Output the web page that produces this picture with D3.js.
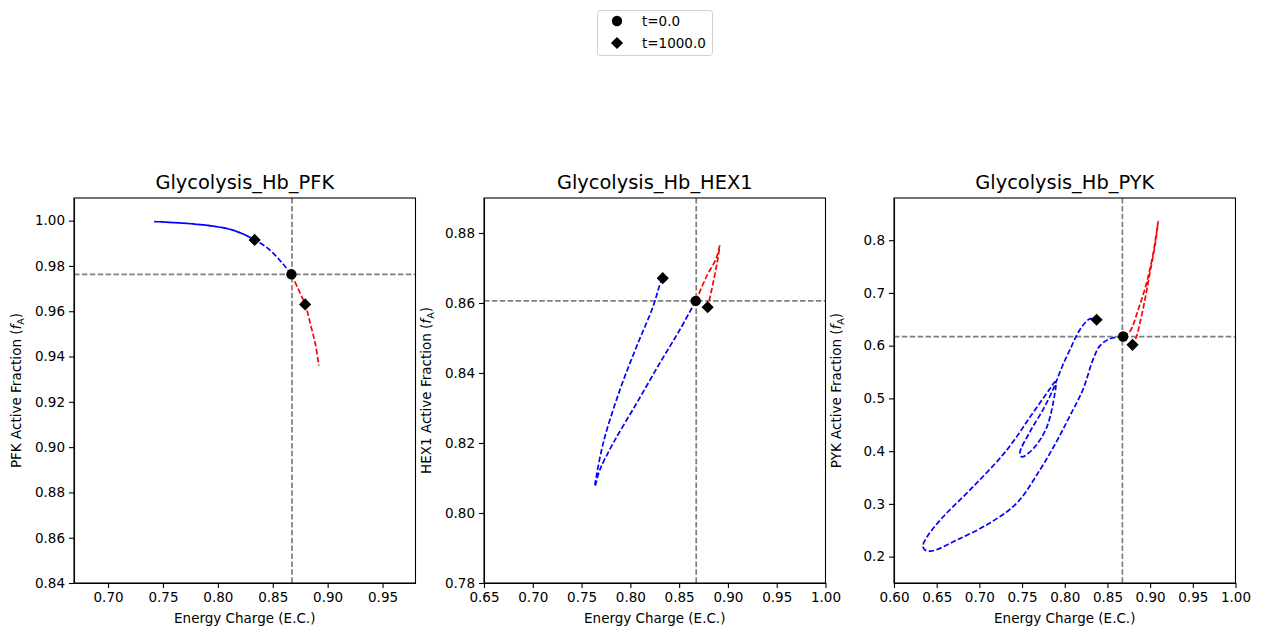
<!DOCTYPE html>
<head>
  <meta charset="utf-8">
  <script src="https://cdn.jsdelivr.net/npm/d3@7"></script>
  <style>
    body { margin: 0; background: #fff; font-family: "DejaVu Sans", sans-serif; }
    .axis text { font-size: 13.5px; font-family: "DejaVu Sans", sans-serif; fill: #000; }
    .axis path, .axis line { stroke: #000; stroke-width: 1.1; }
    .title { font-size: 19.4px; }
    .label { font-size: 13.5px; }
    .curve { fill: none; stroke-width: 1.7; stroke-dasharray: 5.5 2.4; }
    .ref { stroke: #808080; stroke-width: 1.7; stroke-dasharray: 5.5 2.4; }
  </style>
</head>
<body>
  <div id="chart"></div>
  <script>

  // --- data ---
  var titles = ["Glycolysis_Hb_PFK", "Glycolysis_Hb_HEX1", "Glycolysis_Hb_PYK"];
  var enzymes = ["PFK", "HEX1", "PYK"];
  var xLimits = [[0.669, 0.980], [0.65, 1.00], [0.60, 1.00]];
  var yLimits = [[0.84, 1.01], [0.78, 0.89], [0.15, 0.88]];
  var xTicks = [
    [0.70, 0.75, 0.80, 0.85, 0.90, 0.95],
    [0.65, 0.70, 0.75, 0.80, 0.85, 0.90, 0.95, 1.00],
    [0.60, 0.65, 0.70, 0.75, 0.80, 0.85, 0.90, 0.95, 1.00]
  ];
  var yTicks = [
    [0.84, 0.86, 0.88, 0.90, 0.92, 0.94, 0.96, 0.98, 1.00],
    [0.78, 0.80, 0.82, 0.84, 0.86, 0.88],
    [0.2, 0.3, 0.4, 0.5, 0.6, 0.7, 0.8]
  ];
  var yFormats = [".2f", ".2f", ".1f"];
  var steadyEC = 0.8675;
  var steadyFA = [0.9763, 0.8606, 0.617];

  // t=0.0 point (same for both runs) and t=1000.0 points [blue run, red run]
  var t0Points = [[0.867, 0.9763], [0.867, 0.8606], [0.8684, 0.6174]];
  var t1000Points = [
    [[0.8335, 0.9915], [0.8795, 0.9630]],
    [[0.8332, 0.8671], [0.8792, 0.8588]],
    [[0.8373, 0.6491], [0.8794, 0.6016]]
  ];

  var pfkBlue = [[0.867,0.9763],[0.860,0.9805],[0.854,0.9838],[0.845,0.9880],[0.8335,0.9915],[0.8235,0.9940],
                 [0.810,0.9963],[0.787,0.9981],[0.765,0.9990],[0.742,0.9996],[0.765,0.9990],[0.787,0.9981],
                 [0.810,0.9963],[0.8235,0.9940],[0.8335,0.9915]];
  var pfkRed = [[0.867,0.9763],[0.873,0.9700],[0.8795,0.9630],[0.885,0.9530],[0.889,0.9450],[0.892,0.9360]];

  var hexBlue = [[0.867,0.8606],[0.8506,0.8523],[0.8301,0.8428],[0.8063,0.8313],[0.7823,0.8199],[0.7687,0.8123],
                 [0.7636,0.8075],[0.7721,0.8199],[0.7892,0.8351],[0.8063,0.8475],[0.8233,0.8590],[0.8301,0.8651],
                 [0.8332,0.8671]];
  var hexRed = [[0.867,0.8606],[0.8693,0.8620],[0.8779,0.8675],[0.8881,0.8728],[0.8915,0.8763],[0.8888,0.8713],
                [0.8847,0.8656],[0.8813,0.8613],[0.8792,0.8588]];

  var pykBlue = [[0.8684,0.6174],[0.8529,0.6130],[0.8411,0.5997],[0.8330,0.5731],[0.8212,0.5162],[0.8060,0.4669],
                 [0.7908,0.4194],[0.7709,0.3644],[0.7440,0.3018],[0.7124,0.2639],[0.6737,0.2316],[0.6445,0.2107],
                 [0.6363,0.2126],[0.6339,0.2202],[0.6386,0.2373],[0.6574,0.2752],[0.6925,0.3322],[0.7323,0.4024],
                 [0.7627,0.4726],[0.7826,0.5181],[0.7885,0.5314],[0.7896,0.5257],[0.7885,0.5105],[0.7791,0.4460],
                 [0.7639,0.4062],[0.7498,0.3891],[0.7475,0.3967],[0.7592,0.4366],[0.7744,0.4783],[0.7861,0.5162],
                 [0.7908,0.5352],[0.7978,0.5636],[0.8060,0.5921],[0.8177,0.6301],[0.8294,0.6509],[0.8373,0.6491]];
  var pykRed = [[0.8684,0.6174],[0.8763,0.6268],[0.8860,0.6680],[0.8958,0.7187],[0.9036,0.7756],[0.9094,0.8356],
                [0.9055,0.7881],[0.8997,0.7377],[0.8939,0.6870],[0.8880,0.6428],[0.8841,0.6174],[0.8794,0.6016]];

  var blueCurves = [pfkBlue, hexBlue, pykBlue];
  var redCurves = [pfkRed, hexRed, pykRed];
  var legendLabels = ["t=0.0", "t=1000.0"];

  // --- layout ---
  var width = 1261, height = 636;
  var panelLeft = [74, 484, 894], panelW = 341.5, plotTop = 198, plotBottom = 583;

  var svg = d3.select("#chart").append("svg")
      .attr("width", width)
      .attr("height", height);

  var diamond = d3.symbol().type(d3.symbolSquare).size(74);

  titles.forEach(function(title, i) {
    var x = d3.scaleLinear().domain(xLimits[i]).range([panelLeft[i], panelLeft[i] + panelW]);
    var y = d3.scaleLinear().domain(yLimits[i]).range([plotBottom, plotTop]);
    var g = svg.append("g");

    var clipId = "clip" + i;
    g.append("clipPath").attr("id", clipId)
      .append("rect")
      .attr("x", panelLeft[i]).attr("y", plotTop)
      .attr("width", panelW).attr("height", plotBottom - plotTop);

    var plot = g.append("g").attr("clip-path", "url(#" + clipId + ")");

    plot.append("line").attr("class", "ref")
      .attr("x1", x(steadyEC)).attr("x2", x(steadyEC))
      .attr("y1", plotTop).attr("y2", plotBottom);
    plot.append("line").attr("class", "ref")
      .attr("x1", panelLeft[i]).attr("x2", panelLeft[i] + panelW)
      .attr("y1", y(steadyFA[i])).attr("y2", y(steadyFA[i]));

    var line = d3.line()
      .x(function(d) { return x(d[0]); })
      .y(function(d) { return y(d[1]); })
      .curve(d3.curveCatmullRom.alpha(0.5));

    plot.append("path").attr("class", "curve")
      .attr("d", line(blueCurves[i])).style("stroke", "#0000ff");
    plot.append("path").attr("class", "curve")
      .attr("d", line(redCurves[i])).style("stroke", "#ff0000");

    g.append("circle")
      .attr("cx", x(t0Points[i][0])).attr("cy", y(t0Points[i][1]))
      .attr("r", 5.2).style("fill", "#000");

    t1000Points[i].forEach(function(p) {
      g.append("path")
        .attr("d", diamond())
        .attr("transform", "translate(" + x(p[0]) + "," + y(p[1]) + ") rotate(45)")
        .style("fill", "#000");
    });

    g.append("g").attr("class", "axis")
      .attr("transform", "translate(0," + plotBottom + ")")
      .call(d3.axisBottom(x).tickValues(xTicks[i]).tickFormat(d3.format(".2f")).tickSize(5).tickPadding(4).tickSizeOuter(0));
    g.append("g").attr("class", "axis")
      .attr("transform", "translate(" + panelLeft[i] + ",0)")
      .call(d3.axisLeft(y).tickValues(yTicks[i]).tickFormat(d3.format(yFormats[i])).tickSize(5).tickPadding(4).tickSizeOuter(0));

    g.append("rect")
      .attr("x", panelLeft[i]).attr("y", plotTop)
      .attr("width", panelW).attr("height", plotBottom - plotTop)
      .style("fill", "none").style("stroke", "#000").style("stroke-width", 1.1);

    g.append("text").attr("class", "title")
      .attr("x", panelLeft[i] + panelW / 2).attr("y", 189)
      .attr("text-anchor", "middle")
      .text(title);

    g.append("text").attr("class", "label")
      .attr("x", panelLeft[i] + panelW / 2).attr("y", 623)
      .attr("text-anchor", "middle")
      .text("Energy Charge (E.C.)");

    var yl = g.append("text").attr("class", "label")
      .attr("transform", "translate(" + (panelLeft[i] - 53) + "," + ((plotTop + plotBottom) / 2) + ") rotate(-90)")
      .attr("text-anchor", "middle");
    yl.append("tspan").text(enzymes[i] + " Active Fraction (");
    yl.append("tspan").style("font-style", "italic").text("f");
    yl.append("tspan").attr("dy", 3).style("font-size", "9.5px").text("A");
    yl.append("tspan").attr("dy", -3).text(")");
  });

  // legend
  var legend = svg.append("g");
  legend.append("rect")
    .attr("x", 597.5).attr("y", 10.5).attr("width", 115).attr("height", 45)
    .attr("rx", 3)
    .style("fill", "#fff").style("stroke", "#d0d0d0");
  legend.append("circle").attr("cx", 617).attr("cy", 21).attr("r", 5.2).style("fill", "#000");
  legend.append("path").attr("d", diamond())
    .attr("transform", "translate(617,43) rotate(45)").style("fill", "#000");
  legendLabels.forEach(function(t, k) {
    legend.append("text").attr("class", "label")
      .attr("x", 642).attr("y", 26 + k * 22)
      .text(t);
  });

  </script>
</body>
